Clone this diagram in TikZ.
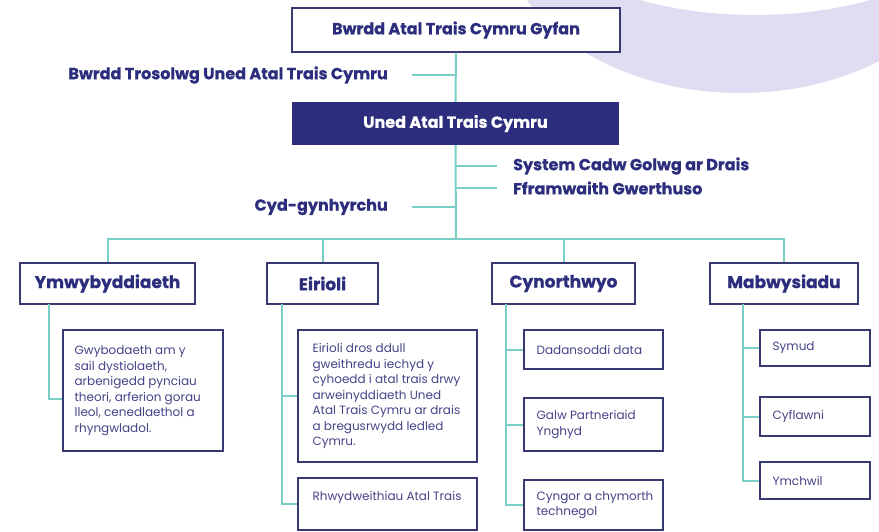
\documentclass[tikz,border=0pt]{standalone}
\usepackage{fontspec}
\setmainfont{Poppins}[BoldFeatures={FakeBold=0.8}]
\definecolor{navy}{RGB}{44,46,125}
\definecolor{boxc}{RGB}{56,57,115}
\definecolor{txtc}{RGB}{68,68,136}
\definecolor{tealc}{RGB}{122,206,197}
\definecolor{lav}{RGB}{224,220,242}
\begin{document}
\begin{tikzpicture}[x=1pt,y=-1pt,
  box/.style={draw=boxc, line width=1.3pt, fill=white, inner sep=0pt},
  conn/.style={draw=tealc, line width=2pt},
  lab/.style={font=\bfseries\fontsize{16}{18}\selectfont, text=navy, inner sep=0pt},
  topbox/.style={box, font=\bfseries\fontsize{16}{18}\selectfont, text=navy},
  unedbox/.style={fill=navy, inner sep=0pt, font=\bfseries\fontsize{16}{18}\selectfont, text=white},
  head/.style={box, font=\bfseries\fontsize{17}{19}\selectfont, text=navy},
  child/.style={box, line width=1.2pt},
  small/.style={font=\fontsize{12}{15.5}\selectfont, text=txtc, align=left, inner sep=0pt, anchor=west},
]
\useasboundingbox (0,0) rectangle (879,532);
\begin{scope}
  \clip (0,0) rectangle (879,532);
  \fill[lav, even odd rule] (740,-79) ellipse [x radius=240pt, y radius=172pt]
                            (755,-79) ellipse [x radius=212pt, y radius=94pt];
\end{scope}

% top part
\node[topbox, minimum width=328pt, minimum height=44pt] (top) at (456,30) {Bwrdd Atal Trais Cymru Gyfan};
\node[unedbox, minimum width=327pt, minimum height=43pt] (uned) at (455.5,123.5) {Uned Atal Trais Cymru};

\node[lab, anchor=east] (l1) at (388,75) {Bwrdd Trosolwg Uned Atal Trais Cymru};
\node[lab, anchor=west] (l2) at (513,166) {System Cadw Golwg ar Drais};
\node[lab, anchor=west] (l3) at (513,188) {Fframwaith Gwerthuso};
\node[lab, anchor=east] (l4) at (388,207) {Cyd-gynhyrchu};

\coordinate (j1) at (456,75);  \coordinate (s1) at (412,75);
\coordinate (j2) at (456,166); \coordinate (s2) at (497,166);
\coordinate (j3) at (456,188); \coordinate (s3) at (497,188);
\coordinate (j4) at (456,207); \coordinate (s4) at (412,207);
\coordinate (bus) at (456,239);

\draw[conn] (top.south) -- (uned.north);
\draw[conn] (uned.south) -- (bus);
\draw[conn] (s1) -- (j1);
\draw[conn] (j2) -- (s2);
\draw[conn] (j3) -- (s3);
\draw[conn] (s4) -- (j4);

% headers
\node[head, minimum width=175pt, minimum height=41pt] (h1) at (107.5,283.5) {Ymwybyddiaeth};
\node[head, minimum width=111pt, minimum height=41pt] (h2) at (322.5,283.5) {Eirioli};
\node[head, minimum width=143pt, minimum height=41pt] (h3) at (563.5,283.5) {Cynorthwyo};
\node[head, minimum width=148pt, minimum height=41pt] (h4) at (784,283.5) {Mabwysiadu};

\draw[conn] (h1.north) |- (bus) -| (h4.north);
\draw[conn] (bus) -| (h2.north);
\draw[conn] (bus) -| (h3.north);

% children boxes
\node[child, minimum width=160pt, minimum height=121pt] (c11) at (143,390.5) {};
\node[child, minimum width=179pt, minimum height=132pt] (c21) at (387.5,396) {};
\node[child, minimum width=179pt, minimum height=52pt] (c22) at (387.5,504) {};
\node[child, minimum width=139pt, minimum height=39pt] (c31) at (593.5,349.5) {};
\node[child, minimum width=139pt, minimum height=53pt] (c32) at (593.5,424.5) {};
\node[child, minimum width=139pt, minimum height=50pt] (c33) at (593.5,505) {};
\node[child, minimum width=110pt, minimum height=36pt] (c41) at (815,348) {};
\node[child, minimum width=110pt, minimum height=39pt] (c42) at (815,416.5) {};
\node[child, minimum width=110pt, minimum height=37pt] (c43) at (815,480.5) {};

% texts
\node[small] (t11) at ([xshift=12pt]c11.west) {Gwybodaeth am y\\sail dystiolaeth,\\arbenigedd pynciau\\theori, arferion gorau\\lleol, cenedlaethol a\\rhyngwladol.};
\node[small] (t21) at ([xshift=15pt]c21.west) {Eirioli dros ddull\\gweithredu iechyd y\\cyhoedd i atal trais drwy\\arweinyddiaeth Uned\\Atal Trais Cymru ar drais\\a bregusrwydd ledled\\Cymru.};
\node[small] (t22) at ([xshift=15pt,yshift=7pt]c22.west) {Rhwydweithiau Atal Trais};
\node[small] (t31) at ([xshift=13pt]c31.west) {Dadansoddi data};
\node[small] (t32) at ([xshift=13pt]c32.west) {Galw Partneriaid\\Ynghyd};
\node[small] (t33) at ([xshift=13pt]c33.west) {Cyngor a chymorth\\technegol};
\node[small] (t41) at ([xshift=13pt]c41.west) {Symud};
\node[small] (t42) at ([xshift=13pt]c42.west) {Cyflawni};
\node[small] (t43) at ([xshift=13pt]c43.west) {Ymchwil};

% child connectors
\coordinate (v1) at (49,304);
\coordinate (v2) at (282,304);
\coordinate (v3) at (506,304);
\coordinate (v4) at (743,304);
\draw[conn] (v1) |- ([yshift=-8pt]c11.west);
\draw[conn] (v2) |- (c22.west);
\draw[conn] (v2 |- c21.west) -- (c21.west);
\draw[conn] (v3) |- (c33.west);
\draw[conn] (v3 |- c31.west) -- (c31.west);
\draw[conn] (v3 |- c32.west) -- (c32.west);
\draw[conn] (v4) |- (c43.west);
\draw[conn] (v4 |- c41.west) -- (c41.west);
\draw[conn] (v4 |- c42.west) -- (c42.west);
\end{tikzpicture}
\end{document}
